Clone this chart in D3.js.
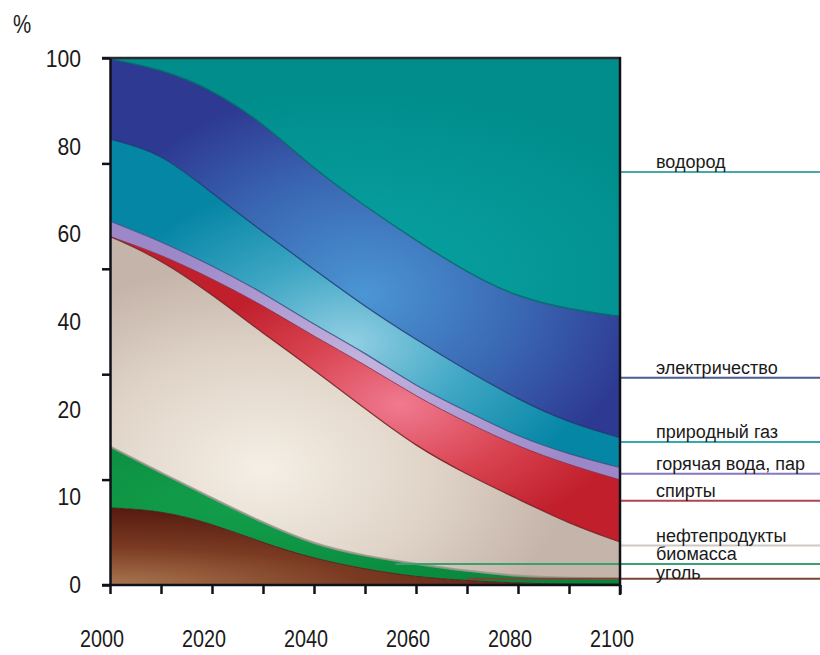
<!DOCTYPE html>
<html><head><meta charset="utf-8">
<script src="https://cdn.jsdelivr.net/npm/d3@7"></script>
<style>
html,body{margin:0;padding:0;background:#fff;}
text{font-family:"Liberation Sans",Arial,Helvetica,sans-serif;fill:#1a1a1a;}
</style></head>
<body>
<svg id="c" width="820" height="655"></svg>
<script>
// ---- data (percent shares, stacked bottom to top) ----
const years = [2000,2010,2020,2030,2040,2050,2060,2070,2080,2090,2100];
const coal        = [8.8, 8.5, 7.0, 4.8, 3.0, 1.8, 0.9, 0.5, 0.2, 0.1, 0.1];
const biomass     = [7.0, 4.3, 2.9, 2.3, 1.6, 1.5, 1.5, 1.1, 0.8, 0.7, 0.6];
const oil         = [43.7,41.5,36.4,30.3,24.5,16.9,13.4,11.0, 8.8, 6.2, 4.2];
const alcohol     = [0.0, 1.1, 3.6, 6.4, 7.6,10.1, 7.2, 5.9, 6.0, 6.7, 7.1];
const hotWater    = [3.5, 3.0, 3.0, 2.9, 2.7, 2.7, 2.3, 1.3, 1.1, 1.2, 1.4];
const gas         = [18.7,20.3,16.5,13.8,12.6,10.5,10.7, 9.1, 5.4, 3.6, 3.4];
const electricity = [18.3,19.0,23.7,24.9,22.9,22.9,22.6,22.4,23.3,24.4,24.5];
const hydrogen    = [0.0, 2.3, 6.9,14.6,25.1,33.6,41.4,48.7,54.4,57.1,58.7];

const seriesNames = ["уголь","биомасса","нефтепродукты","спирты","горячая вода, пар","природный газ","электричество","водород"];
const seriesData  = [coal, biomass, oil, alcohol, hotWater, gas, electricity, hydrogen];
const labelValues = [0.7, 2.4, 4.5, 9.6, 12.7, 16.3, 27.3, 74.2];   // where each label's leader line sits
const leaderStartYears = [2070, 2056, 2100, 2100, 2100, 2100, 2100, 2100];
const yTickLabels = [0,10,20,40,60,80,100];
const xTickValues = d3.range(2000, 2101, 10);
const xTickLabels = d3.range(2000, 2101, 20);

// ---- styles ----
const gradStops = [
  {cx:"0%",  cy:"100%", r:"110%", stops:[["0%","#a9764f"],["45%","#7a3a22"],["100%","#4e140c"]]},
  {cx:"30%", cy:"40%",  r:"80%",  stops:[["0%","#13a04c"],["100%","#07853a"]]},
  {cx:"30%", cy:"68%",  r:"60%",  stops:[["0%","#f5efe5"],["55%","#e0d4c8"],["100%","#c5b4a9"]]},
  {cx:"57%", cy:"55%",  r:"45%",  stops:[["0%","#f07a90"],["55%","#d8424f"],["100%","#c11f2c"]]},
  {cx:"50%", cy:"55%",  r:"55%",  stops:[["0%","#c4b2de"],["100%","#9c88c8"]]},
  {cx:"47%", cy:"62%",  r:"50%",  stops:[["0%","#92cfe3"],["50%","#3ea6c4"],["100%","#0686a5"]]},
  {cx:"50%", cy:"62%",  r:"55%",  stops:[["0%","#4b96d4"],["55%","#3a68b3"],["100%","#2e3a92"]]},
  {cx:"45%", cy:"85%",  r:"75%",  stops:[["0%","#0aa3a4"],["100%","#008d8b"]]}
];
const edgeColors  = ["#4a1a10","#9a968e","#6e1818","#7a3050","#33507f","#1b3470","#006666",null];
const edgeWidths  = [1, 2.2, 1.2, 1, 1.2, 1.2, 1.4, 0];
const leaderColors = ["#7a4434","#3aa070","#cfc7c2","#b04452","#8878c0","#35a8b2","#4c5b90","#4aa8aa"];
const labelDy = [0, -4, -4, -4, -4, -4, -4, -4];

// ---- layout ----
const svg = d3.select("#c");
const plotL = 110, plotR = 620, plotB = 585, plotT = 59;
const x = d3.scaleLinear().domain([2000,2100]).range([plotL, plotR]);
// y axis labels are evenly spaced on the page although their values are not
const y = d3.scaleLinear().domain(yTickLabels)
  .range(yTickLabels.map((d,i) => plotB - i*(plotB-plotT)/(yTickLabels.length-1)));
const tickScale = d3.scaleLinear().domain([0,5]).range([plotB, plotT-1]);

const rows = years.map((yr,i) => {
  const o = {year: yr};
  seriesNames.forEach((n,k) => o[n] = seriesData[k][i]);
  return o;
});
const stacked = d3.stack().keys(seriesNames)(rows);

const defs = svg.append("defs");
gradStops.forEach((g,i) => {
  const gr = defs.append("radialGradient").attr("id","g"+i)
    .attr("cx",g.cx).attr("cy",g.cy).attr("r",g.r);
  g.stops.forEach(s => gr.append("stop").attr("offset",s[0]).attr("stop-color",s[1]));
});
defs.append("clipPath").attr("id","plotclip").append("rect")
  .attr("x",x(2000)).attr("y",y(100)).attr("width",x(2100)-x(2000)).attr("height",y(0)-y(100));

const curve = d3.curveBasis;
const area = d3.area().x(d => x(d.data.year)).y0(d => y(d[0])).y1(d => y(Math.min(100,d[1]))).curve(curve);
const topLine = d3.line().x(d => x(d.data.year)).y(d => y(Math.min(100,d[1]))).curve(curve);

const gPlot = svg.append("g").attr("clip-path","url(#plotclip)");
stacked.slice().reverse().forEach(s => {
  gPlot.append("path").attr("d", area(s)).attr("fill","url(#g"+s.index+")");
});
stacked.forEach(s => {
  if (!edgeColors[s.index]) return;
  gPlot.append("path").attr("d", topLine(s)).attr("fill","none")
    .attr("stroke", edgeColors[s.index]).attr("stroke-width", edgeWidths[s.index])
    .attr("stroke-opacity", 0.85);
});

// ---- leader lines & labels ----
const gLeg = svg.append("g");
seriesNames.forEach((n,k) => {
  const yy = y(labelValues[k]);
  gLeg.append("line").attr("x1", x(leaderStartYears[k])).attr("x2", 820)
    .attr("y1", yy).attr("y2", yy).attr("stroke", leaderColors[k]).attr("stroke-width", 2);
  gLeg.append("text").attr("x", 656).attr("y", yy + labelDy[k]).attr("font-size", 18).text(n);
});

// ---- frame & axes ----
const frame = svg.append("g").attr("stroke","#101018").attr("stroke-width",2.5).attr("fill","none");
frame.append("line").attr("x1",plotL-8).attr("x2",plotR+1).attr("y1",y(100)-1).attr("y2",y(100)-1).attr("stroke","#2a2a30");
frame.append("line").attr("x1",plotR).attr("x2",plotR).attr("y1",y(100)-2).attr("y2",plotB+10);

const xAxis = svg.append("g").attr("transform",`translate(0,${plotB})`)
  .call(d3.axisBottom(x).tickValues(xTickValues).tickSize(9).tickSizeOuter(0).tickFormat(""));
xAxis.select(".domain").attr("d", `M${plotL-8},0H${plotR+1}`).attr("stroke","#101018").attr("stroke-width",2.5);
xAxis.selectAll(".tick line").attr("stroke","#101018").attr("stroke-width",2.5);

const yAxis = svg.append("g").attr("transform",`translate(${plotL},0)`)
  .call(d3.axisLeft(tickScale).ticks(5).tickSize(8).tickSizeOuter(0).tickFormat(""));
yAxis.select(".domain").attr("stroke","#101018").attr("stroke-width",2.5);
yAxis.selectAll(".tick line").attr("stroke","#101018").attr("stroke-width",2.5);

// y labels
yTickLabels.forEach(v => {
  svg.append("text").attr("text-anchor","end").attr("font-size",23)
    .attr("transform",`translate(81,${y(v)+8}) scale(0.92,1)`).text(v);
});
// x labels
xTickLabels.forEach(v => {
  svg.append("text").attr("text-anchor","middle").attr("font-size",23)
    .attr("transform",`translate(${x(v)-8},647) scale(0.86,1)`).text(v);
});
// unit
svg.append("text").attr("font-size",25).attr("transform","translate(13,33) scale(0.82,1)").text("%");
</script>
</body></html>
